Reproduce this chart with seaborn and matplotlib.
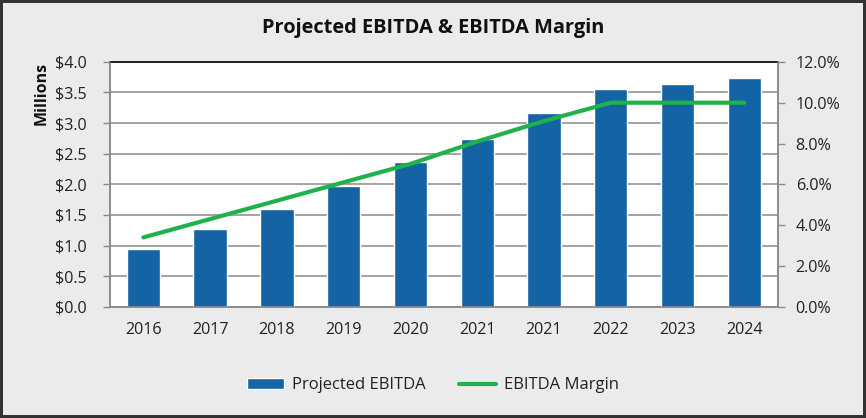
import pandas as pd
import matplotlib.pyplot as plt
import matplotlib.ticker as mticker
import seaborn as sns

# Datos
years = ['2016', '2017', '2018', '2019', '2020', '2021', '2021', '2022', '2023', '2024']
ebitda = [0.94, 1.27, 1.60, 1.98, 2.36, 2.74, 3.16, 3.56, 3.64, 3.73]
margin = [3.4, 4.3, 5.2, 6.1, 7.0, 8.1, 9.1, 10.0, 10.0, 10.0]

df = pd.DataFrame({'pos': range(len(years)), 'year': years,
                   'ebitda': ebitda, 'margin': margin})

sns.set_theme(style='white')
plt.rcParams['font.family'] = ['Open Sans', 'DejaVu Sans']
plt.rcParams['text.color'] = '#222222'

blue = '#1464a5'
green = '#1fb24b'
grid_c = '#8a8a8a'
fs = 11.6

fig = plt.figure(figsize=(8.66, 4.18), dpi=100)
fig.patch.set_facecolor('#ebebeb')
fig.patch.set_edgecolor('#333333')
fig.patch.set_linewidth(3)

ax = fig.add_axes([0.127, 0.266, 0.771, 0.586])
ax.set_facecolor('white')

sns.barplot(data=df, x='pos', y='ebitda', color=blue, width=0.5,
            saturation=1, ax=ax, label='Projected EBITDA', zorder=3)
ax.set_xlim(-0.5, len(years) - 0.5)
ax.set_ylim(0, 4.0)
ax.set_yticks([i * 0.5 for i in range(9)])
ax.yaxis.set_major_formatter(mticker.FuncFormatter(lambda v, p: f'${v:.1f}'))
ax.set_xticks(range(len(years)), labels=years)
ax.set_xticks([i - 0.5 for i in range(len(years) + 1)], minor=True)
ax.tick_params(axis='x', which='major', length=0, pad=11, labelsize=fs, labelcolor='#222222')
ax.tick_params(axis='x', which='minor', length=5, width=1, color=grid_c, direction='out')
ax.tick_params(axis='y', length=5, width=1, color=grid_c, direction='out',
               labelsize=fs, labelcolor='#222222', pad=12)
ax.grid(axis='y', color=grid_c, linewidth=1.1, zorder=0)
ax.set_axisbelow(True)
ax.set_xlabel('')
ax.set_ylabel('Millions', fontsize=11.5, fontweight='bold', loc='top', color='#111111')
ax.yaxis.set_label_coords(-0.09, 1.0)
for side in ['left', 'bottom', 'right']:
    ax.spines[side].set_color(grid_c)
    ax.spines[side].set_linewidth(1.1)
ax.spines['top'].set_color('#111111')
ax.spines['top'].set_linewidth(1.3)

ax2 = ax.twinx()
sns.lineplot(data=df, x='pos', y='margin', color=green, linewidth=3,
             ax=ax2, label='EBITDA Margin', zorder=4)
ax2.set_ylim(0, 12)
ax2.set_yticks(range(0, 13, 2))
ax2.yaxis.set_major_formatter(mticker.FuncFormatter(lambda v, p: f'{v:.1f}%'))
ax2.tick_params(axis='y', length=5, width=1, color=grid_c, direction='out',
                labelsize=fs, labelcolor='#222222', pad=8)
ax2.set_ylabel('')
ax2.set_xlabel('')
for side in ['left', 'bottom', 'right']:
    ax2.spines[side].set_color(grid_c)
    ax2.spines[side].set_linewidth(1.1)
ax2.spines['top'].set_visible(False)
ax2.set_xlim(-0.5, len(years) - 0.5)

h1, l1 = ax.get_legend_handles_labels()
h2, l2 = ax2.get_legend_handles_labels()
if ax.get_legend():
    ax.get_legend().remove()
if ax2.get_legend():
    ax2.get_legend().remove()
fig.legend(h1 + h2, l1 + l2, loc='center', bbox_to_anchor=(0.5, 0.078), ncol=2,
           frameon=False, fontsize=12, handlelength=2.2, handleheight=0.55,
           columnspacing=2.0, handletextpad=0.5)

fig.suptitle('Projected EBITDA & EBITDA Margin', fontsize=14.4, fontweight='bold',
             y=0.933, va='center', color='#111111')

plt.savefig('out.png', dpi=100, facecolor=fig.get_facecolor(), edgecolor=fig.get_edgecolor())
